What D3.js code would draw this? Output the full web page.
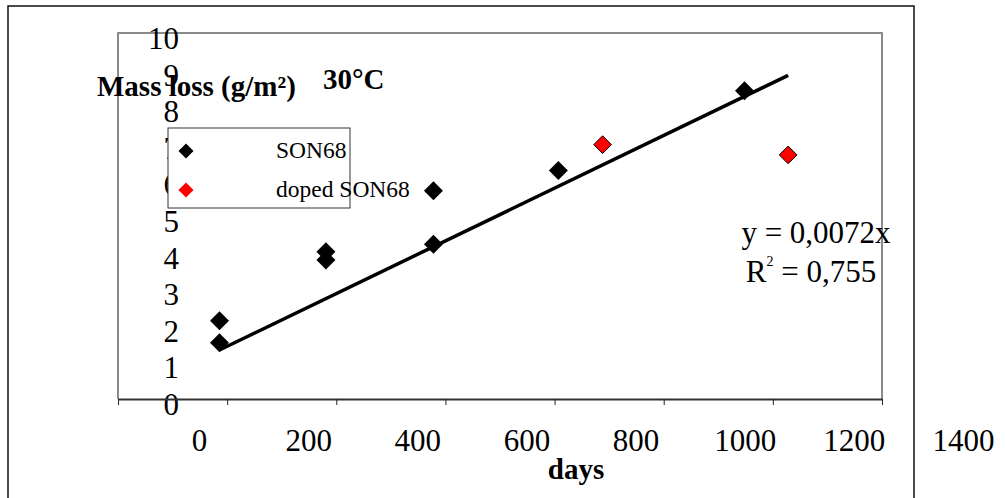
<!DOCTYPE html>
<html lang="en">
<head>
    <meta charset="UTF-8">
    <title>Mass loss 30°C</title>
    <script src="https://d3js.org/d3.v7.min.js"></script>
    <style>
        body { margin: 0; background: #fff; }
        svg text { font-family: "Liberation Serif", "Times New Roman", serif; }
    </style>
</head>
<body>
    <div id="chart"></div>
    <script>
        // Values
        const son68Days = [186, 186, 381, 381, 578, 578, 807, 1148];
        const son68Mass = [1.54, 2.14, 4.02, 3.80, 4.23, 5.69, 6.24, 8.42];
        const dopedDays = [888, 1228];
        const dopedMass = [6.95, 6.67];
        const xTicks = [0, 200, 400, 600, 800, 1000, 1200, 1400];
        const yTicks = [0, 1, 2, 3, 4, 5, 6, 7, 8, 9, 10];
        const slope = 0.0072;   // trend y = 0,0072x

        const width = 1005, height = 498;
        const svg = d3.select('#chart')
            .append('svg')
            .attr('width', width)
            .attr('height', height);

        // outer chart frame (bottom runs off the picture)
        svg.append('path')
            .attr('d', 'M8,505 L8,6 L914,6 L914,505')
            .attr('fill', 'none')
            .attr('stroke', '#111')
            .attr('stroke-width', 1.5);

        const x = d3.scaleLinear().domain([0, 1400]).range([118, 882]);
        const y = d3.scaleLinear().domain([0, 10]).range([399, 33]);

        // plot area border
        svg.append('path')
            .attr('d', `M${x(0)},${y(0)} L${x(0)},${y(10)} L${x(1400)},${y(10)} L${x(1400)},${y(0)}`)
            .attr('fill', 'none')
            .attr('stroke', '#8a8a8a')
            .attr('stroke-width', 2);

        // y axis labels (no ticks)
        const yAxis = svg.append('g')
            .attr('transform', `translate(${x(0)},0)`)
            .call(d3.axisLeft(y).tickValues(yTicks).tickSize(0));
        yAxis.select('.domain').remove();
        yAxis.selectAll('text')
            .attr('x', 61)
            .attr('dy', '0.5em')
            .attr('text-anchor', 'end')
            .attr('font-size', 31)
            .attr('font-family', '"Liberation Serif", serif')
            .attr('fill', '#000');

        // x axis
        const xAxis = svg.append('g')
            .attr('transform', `translate(0,${y(0)})`)
            .call(d3.axisBottom(x).tickValues(xTicks).tickFormat(d3.format('d'))
                .tickSize(6).tickSizeOuter(0));
        xAxis.select('.domain').attr('stroke', '#333').attr('stroke-width', 2);
        xAxis.selectAll('.tick line').attr('stroke', '#222');
        xAxis.selectAll('text')
            .attr('x', 81)
            .attr('y', 52)
            .attr('dy', 0)
            .attr('font-size', 31)
            .attr('font-family', '"Liberation Serif", serif')
            .attr('fill', '#000');

        // trend line over the data range
        const allDays = son68Days.concat(dopedDays);
        const trendX = d3.extent(allDays);
        svg.append('line')
            .attr('x1', x(trendX[0]))
            .attr('y1', y(slope * trendX[0]))
            .attr('x2', x(trendX[1]))
            .attr('y2', y(slope * trendX[1]))
            .attr('stroke', '#000')
            .attr('stroke-width', 3.5);

        const diamond = d3.symbol().type(d3.symbolDiamond2);

        svg.selectAll('.son68')
            .data(son68Days.map((d, i) => [d, son68Mass[i]]))
            .enter()
            .append('path')
            .attr('class', 'son68')
            .attr('d', diamond.size(230)())
            .attr('transform', d => `translate(${x(d[0])},${y(d[1])})`)
            .attr('fill', '#000');

        svg.selectAll('.doped')
            .data(dopedDays.map((d, i) => [d, dopedMass[i]]))
            .enter()
            .append('path')
            .attr('class', 'doped')
            .attr('d', diamond.size(200)())
            .attr('transform', d => `translate(${x(d[0])},${y(d[1])})`)
            .attr('fill', '#ff0000')
            .attr('stroke', '#000')
            .attr('stroke-width', 1);

        // legend
        const legend = svg.append('g');
        legend.append('rect')
            .attr('x', 168).attr('y', 128)
            .attr('width', 182).attr('height', 80)
            .attr('fill', '#fff')
            .attr('stroke', '#333')
            .attr('stroke-width', 1);
        const legendItems = [
            { label: 'SON68', color: '#000', cy: 151 },
            { label: 'doped SON68', color: '#ff0000', cy: 190 }
        ];
        legendItems.forEach(it => {
            legend.append('path')
                .attr('d', diamond.size(145)())
                .attr('transform', `translate(186,${it.cy})`)
                .attr('fill', it.color);
            legend.append('text')
                .attr('x', 276)
                .attr('y', it.cy + 7)
                .attr('font-size', 23.5)
                .text(it.label);
        });

        // titles
        svg.append('text')
            .attr('x', 97).attr('y', 96)
            .attr('font-size', 29)
            .attr('font-weight', 'bold')
            .text('Mass loss (g/m²)');
        svg.append('text')
            .attr('x', 323).attr('y', 89)
            .attr('font-size', 29)
            .attr('font-weight', 'bold')
            .text('30°C');
        svg.append('text')
            .attr('x', 576).attr('y', 479)
            .attr('text-anchor', 'middle')
            .attr('font-size', 29)
            .attr('font-weight', 'bold')
            .text('days');

        // trend equation
        svg.append('text')
            .attr('x', 816).attr('y', 243)
            .attr('text-anchor', 'middle')
            .attr('font-size', 31)
            .text('y = 0,0072x');
        const r2 = svg.append('text')
            .attr('x', 811).attr('y', 282)
            .attr('text-anchor', 'middle')
            .attr('font-size', 31);
        r2.append('tspan').text('R');
        r2.append('tspan').attr('font-size', 14).attr('dy', -16).text('2');
        r2.append('tspan').attr('dy', 16).text(' = 0,755');
    </script>
</body>
</html>
